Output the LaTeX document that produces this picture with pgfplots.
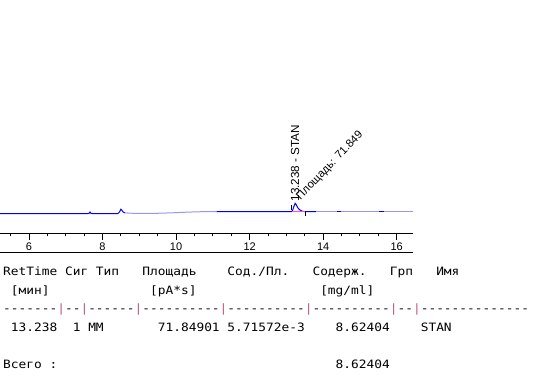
\documentclass[border=0pt]{standalone}
\usepackage{fontspec}
\setmainfont{Liberation Sans}
\newfontfamily\tmono[FakeStretch=1.117, Ligatures=TeXOff]{DejaVu Sans Mono}
\usepackage{pgfplots}
\pgfplotsset{compat=1.18}
\definecolor{trace}{RGB}{0,0,255}
\definecolor{lav}{RGB}{150,150,245}
\definecolor{pinkb}{RGB}{255,80,200}
\definecolor{pipe}{RGB}{185,90,120}
\newcommand{\T}[3]{\node[anchor=base west, inner sep=0pt, font=\tmono\fontsize{11.5}{12}\selectfont] at ({3+#1*7.733}, {376-#2}) {#3};}
\newcommand{\Pp}[2]{\node[anchor=base west, inner sep=0pt, text=pipe, font=\tmono\fontsize{11.5}{12}\selectfont] at ({3+#1*7.733}, {376-#2}) {|};}
\begin{document}
\begin{tikzpicture}[x=1pt,y=1pt]
\useasboundingbox (0,0) rectangle (554,376);
\begin{axis}[
  at={(0,143)}, anchor=south west,
  scale only axis, width=413pt, height=233pt,
  xmin=5.2113, xmax=16.443, ymin=0, ymax=233,
  axis x line=bottom, axis y line=none,
  axis line style={-, line width=1pt, black},
  every outer x axis line/.append style={-},
  xtick={6,8,10,12,14,16},
  minor xtick={5.5,6.5,7,7.5,8.5,9,9.5,10.5,11,11.5,12.5,13,13.5,14.5,15,15.5},
  tick align=outside,
  major tick length=6.7pt, minor tick length=3.3pt,
  every tick/.style={black, line width=0.9pt},
  ytick=\empty,
  /pgf/number format/assume math mode=true,
  xticklabel style={font=\fontsize{11}{12}\selectfont},
  clip=false,
]
\addplot[trace, line width=1pt] coordinates {
(5.2113,19.5) (7.60,19.5) (7.64,19.8) (7.66,21.0) (7.68,19.8) (7.72,19.5) (8.42,19.5) (8.46,21.0) (8.50,23.8) (8.53,22.5) (8.56,21.0) (8.61,20.2)};
\addplot[lav, line width=1pt] coordinates {
(8.61,20.2) (8.75,19.8) (9.0,19.6) (9.3,19.6) (9.6,19.8) (9.9,20.2) (10.2,20.7) (10.5,21.1) (10.8,21.4) (11.10,21.5)};
\addplot[trace, line width=1pt] coordinates {
(11.10,21.5) (13.14,21.5) (13.17,22.7) (13.20,26.2) (13.238,29.7) (13.27,28.2) (13.31,25.2) (13.36,23.2) (13.42,22.0) (13.48,21.5) (13.81,21.5)};
\addplot[lav, line width=1pt] coordinates {(13.81,21.5) (14.38,21.5)};
\addplot[trace, line width=1pt] coordinates {(14.38,21.5) (14.49,21.5)};
\addplot[lav, line width=1pt] coordinates {(14.49,21.5) (15.52,21.5)};
\addplot[trace, line width=1pt] coordinates {(15.52,21.5) (15.65,21.5)};
\addplot[lav, line width=1pt] coordinates {(15.65,21.5) (16.443,21.5)};
\addplot[pinkb, line width=1pt] coordinates {(13.14,21.5) (13.50,21.5)};
\addplot[black, line width=0.9pt] coordinates {(13.14,23.0) (13.14,27.7)};
\addplot[black, line width=0.9pt] coordinates {(13.507,17.0) (13.507,22.0)};
\node[rotate=90, anchor=west, inner sep=0pt, font=\fontsize{11.7}{12}\selectfont] at (axis cs:13.238,31.3) {13.238 - STAN};
\node[rotate=46, anchor=south west, inner sep=0pt, font=\fontsize{11.2}{12}\selectfont] at (axis cs:13.43,31) {Площадь: 71.849};
\end{axis}
\draw[line width=1pt] (0,124) -- (413,124);
% table
\T{0}{275.5}{RetTime} \T{8}{275.5}{Сиг} \T{12}{275.5}{Тип} \T{18}{275.5}{Площадь}
\T{29}{275.5}{Сод./Пл.} \T{40}{275.5}{Содерж.} \T{50}{275.5}{Грп} \T{56}{275.5}{Имя}
\T{1}{294}{[мин]} \T{19}{294}{[pA*s]} \T{41}{294}{[mg/ml]}
\T{0}{312.5}{-------} \Pp{7}{312.5} \T{8}{312.5}{--} \Pp{10}{312.5} \T{11}{312.5}{------} \Pp{17}{312.5}
\T{18}{312.5}{----------} \Pp{28}{312.5} \T{29}{312.5}{----------} \Pp{39}{312.5}
\T{40}{312.5}{----------} \Pp{50}{312.5} \T{51}{312.5}{--} \Pp{53}{312.5} \T{54}{312.5}{--------------}
\T{1}{331}{13.238} \T{9}{331}{1} \T{11}{331}{MM} \T{20}{331}{71.84901} \T{29}{331}{5.71572e-3}
\T{43}{331}{8.62404} \T{54}{331}{STAN}
\T{0}{368.5}{Всего :} \T{43}{368.5}{8.62404}
\end{tikzpicture}
\end{document}
